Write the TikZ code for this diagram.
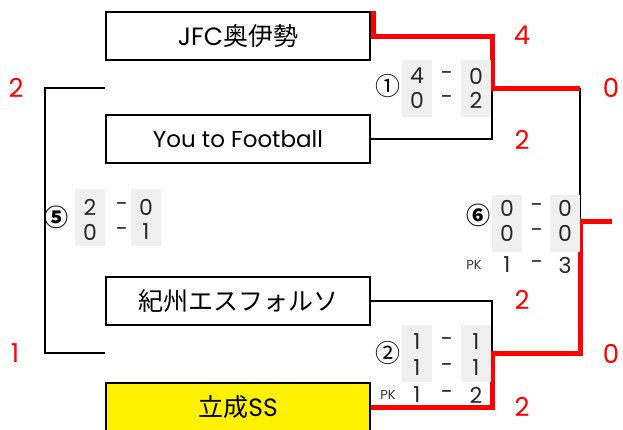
\documentclass[tikz,border=0pt]{standalone}
\usepackage{fontspec}
\setmainfont{Noto Sans CJK JP}
\newfontfamily\latn{Poppins}
\usetikzlibrary{positioning,calc}
\tikzset{
  team/.style={draw,line width=2pt,minimum width=264pt,minimum height=48pt,inner sep=0pt,font=\fontsize{25}{25}\selectfont},
  win/.style={red,line width=5pt},
  lose/.style={black,line width=2pt},
  res/.style={red,inner sep=0pt,font=\latn\fontsize{26}{26}\selectfont},
  cell/.style={fill=black!6,minimum width=30pt,minimum height=57pt,inner sep=0pt},
  sc/.style={inner sep=0pt,text=black!85,font=\latn\fontsize{22}{22}\selectfont},
  no/.style={inner sep=0pt,font=\fontsize{25}{25}\selectfont},
  pk/.style={inner sep=0pt,text=black!80,font=\latn\fontsize{13}{13}\selectfont},
}
\begin{document}
\begin{tikzpicture}[x=1pt,y=-1pt]
\useasboundingbox (0,0) rectangle (623,429);

% teams
\node[team] (jfc) at (238,36) {{\latn JFC}奥伊勢};
\node[team] (ytf) at (238,139) {\latn\fontsize{23}{23}\selectfont You to Football};
\node[team] (kis) at (238,301) {紀州エスフォルソ};
\node[team,fill=yellow] (rit) at (238,407) {立成{\latn SS}};

% joints
\coordinate (m1) at (492,88);
\coordinate (m2) at (492,353);
\coordinate (q1) at (580,88);
\coordinate (m6) at (580,221);
\coordinate (fin) at (612,221);
\coordinate (l1) at (105,88);
\coordinate (l2) at (105,353);

% lines
\draw[lose] (ytf.east) -| (m1);
\draw[lose] (kis.east) -| (m2);
\draw[lose] (q1) -- (m6);
\draw[lose] (l1) -- ++(-60,0) |- (l2);
\draw[win] ([xshift=2pt]jfc.north east) -- ([xshift=2pt]jfc.east) -| (m1) -- (q1);
\draw[win] (rit.east) -| (m2) -| (m6) -- (fin);

% match 1
\node[cell] (c1a) at (417,88) {};
\node[cell] (c1b) at (476,88) {};
\node[no] (n1) at (388,86) {①};
\node[sc] (s1a) at (417,76) {4};
\node[sc] (d1a) at (447,76) {-};
\node[sc] (s1b) at (476,76) {0};
\node[sc] (s1c) at (417,100) {0};
\node[sc] (d1b) at (447,100) {-};
\node[sc] (s1d) at (476,100) {2};

% match 2
\node[cell] (c2a) at (417,353) {};
\node[cell] (c2b) at (476,353) {};
\node[no] (n2) at (388,353) {②};
\node[sc] (s2a) at (417,342) {1};
\node[sc] (d2a) at (447,342) {-};
\node[sc] (s2b) at (476,342) {1};
\node[sc] (s2c) at (417,368) {1};
\node[sc] (d2b) at (447,368) {-};
\node[sc] (s2d) at (476,368) {1};
\node[pk] (p2) at (388,395) {PK};
\node[sc] (s2e) at (417,395) {1};
\node[sc] (d2c) at (447,395) {-};
\node[sc] (s2f) at (476,395) {2};

% match 5
\node[cell] (c5a) at (90,217) {};
\node[cell] (c5b) at (146,217) {};
\node[no,font=\bfseries\fontsize{24}{24}\selectfont] (n5) at (56,217) {⑤};
\node[sc] (s5a) at (90,207) {2};
\node[sc] (d5a) at (122,207) {-};
\node[sc] (s5b) at (146,207) {0};
\node[sc] (s5c) at (90,232) {0};
\node[sc] (d5b) at (122,232) {-};
\node[sc] (s5d) at (146,232) {1};

% match 6
\node[cell] (c6a) at (507,223) {};
\node[cell] (c6b) at (565,223) {};
\node[no,font=\bfseries\fontsize{24}{24}\selectfont] (n6) at (478,215) {⑥};
\node[sc] (s6a) at (507,208) {0};
\node[sc] (d6a) at (537,208) {-};
\node[sc] (s6b) at (565,208) {0};
\node[sc] (s6c) at (507,233) {0};
\node[sc] (d6b) at (537,233) {-};
\node[sc] (s6d) at (565,233) {0};
\node[pk] (p6) at (474,265) {PK};
\node[sc] (s6e) at (507,265) {1};
\node[sc] (d6c) at (537,265) {-};
\node[sc] (s6f) at (565,265) {3};

% results
\node[res] (r1) at (16,88) {2};
\node[res] (r2) at (15,353) {1};
\node[res] (r3) at (522,35) {4};
\node[res] (r4) at (611,88) {0};
\node[res] (r5) at (522,140) {2};
\node[res] (r6) at (522,300) {2};
\node[res] (r7) at (611,354) {0};
\node[res] (r8) at (522,407) {2};
\end{tikzpicture}
\end{document}
